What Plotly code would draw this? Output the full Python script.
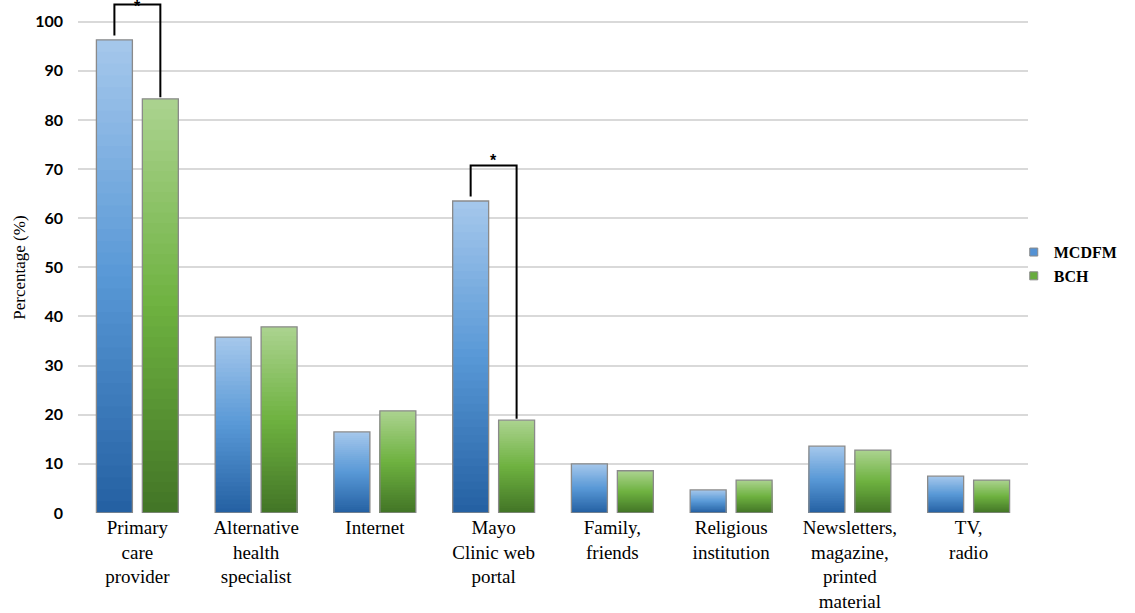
import plotly.graph_objects as go

# Information sources used by each patient group (percentage of respondents)
categories = [
    "Primary<br>care<br>provider",
    "Alternative<br>health<br>specialist",
    "Internet",
    "Mayo<br>Clinic web<br>portal",
    "Family,<br>friends",
    "Religious<br>institution",
    "Newsletters,<br>magazine,<br>printed<br>material",
    "TV,<br>radio",
]
mcdfm = [96.3, 35.8, 16.5, 63.5, 10.0, 4.7, 13.6, 7.5]
bch = [84.3, 37.9, 20.8, 18.9, 8.6, 6.7, 12.8, 6.7]
y_ticks = [0, 10, 20, 30, 40, 50, 60, 70, 80, 90, 100]
significant = [0, 3]  # categories with a significant difference (*)

x = list(range(len(categories)))
BAR_W = 0.303
GAP = 0.084
off_blue = -GAP / 2 - BAR_W
off_green = GAP / 2
Y_MAX = 104


def lerp(c1, c2, t):
    return tuple(round(a + (b - a) * t) for a, b in zip(c1, c2))


def ramp(stops, t):
    # stops: list of rgb tuples from top (t=0) to bottom (t=1)
    n = len(stops) - 1
    i = min(int(t * n), n - 1)
    return lerp(stops[i], stops[i + 1], t * n - i)


blue_stops = [(166, 200, 236), (88, 152, 214), (36, 96, 162)]
green_stops = [(172, 211, 144), (110, 178, 64), (66, 116, 38)]

fig = go.Figure()
STEPS = 40


def add_series(name, values, offset, stops, legend_rgb):
    # vertical gradient: successively shorter, darker bars
    for k in range(STEPS):
        frac = (STEPS - k) / STEPS
        t = (k + 0.5) / STEPS
        fig.add_trace(go.Bar(
            x=x, y=[v * frac for v in values], offset=offset, width=BAR_W,
            marker=dict(color="rgb(%d,%d,%d)" % ramp(stops, t), line=dict(width=0)),
            showlegend=False, hoverinfo="skip",
        ))
    # outline on top
    fig.add_trace(go.Bar(
        x=x, y=values, offset=offset, width=BAR_W,
        marker=dict(color="rgba(0,0,0,0)", line=dict(color="#8a8a8a", width=1.3)),
        showlegend=False, hoverinfo="skip",
    ))
    # legend key
    fig.add_trace(go.Scatter(
        x=[None], y=[None], mode="markers", name=name,
        marker=dict(symbol="square", size=8, color="rgb(%d,%d,%d)" % legend_rgb,
                    line=dict(color="#8a8a8a", width=1)),
    ))


add_series("MCDFM", mcdfm, off_blue, blue_stops, (84, 146, 212))
add_series("BCH", bch, off_green, green_stops, (104, 172, 62))

# significance brackets
for i in significant:
    xb = i + off_blue + BAR_W / 2
    xg = i + off_green + BAR_W / 2
    top = max(mcdfm[i], bch[i]) + 7.2
    path = "M %f,%f L %f,%f L %f,%f L %f,%f" % (
        xb, mcdfm[i] + 0.9, xb, top, xg, top, xg, bch[i] + 0.3)
    fig.add_shape(type="path", path=path, xref="x", yref="y",
                  line=dict(color="black", width=2), layer="above")
    # the star sits just above the bracket, kept inside the axis range
    fig.add_annotation(x=i, y=min(top + 1.8, Y_MAX), xref="x", yref="y",
                       text="<b>*</b>", showarrow=False, yanchor="middle", yshift=-4,
                       font=dict(family="Liberation Sans", size=16, color="black"))

fig.add_annotation(
    text="Percentage (%)", textangle=-90, xref="paper", yref="paper",
    x=-58 / 950, y=0.48, showarrow=False, xanchor="center", yanchor="middle",
    font=dict(family="Liberation Serif", size=17, color="#000"),
)

fig.update_layout(
    width=1135, height=613,
    margin=dict(l=78, r=107, t=2, b=100, autoexpand=False),
    paper_bgcolor="white", plot_bgcolor="white",
    barmode="overlay",
    showlegend=True,
    legend=dict(x=0.985, y=0.487, xanchor="left", yanchor="middle",
                font=dict(family="Liberation Serif", size=16, color="#000", weight="bold"),
                itemwidth=30, tracegroupgap=0, bgcolor="rgba(0,0,0,0)"),
    xaxis=dict(
        range=[-0.5, len(categories) - 0.5],
        tickmode="array", tickvals=x, ticktext=categories,
        tickfont=dict(family="Liberation Serif", size=19, color="#000"),
        showgrid=False, zeroline=False, showline=False, ticks="",
        ticklabelstandoff=1,
    ),
    yaxis=dict(
        range=[0, Y_MAX], tickvals=y_ticks, ticktext=[str(v) for v in y_ticks],
        tickfont=dict(family="Lato", size=16, color="#000", weight="bold"),
        showgrid=True, gridcolor="#d9d9d9", gridwidth=1.5,
        zeroline=False, showline=False, ticks="", ticklabelstandoff=14,
    ),
)

fig.write_html("out.html")
